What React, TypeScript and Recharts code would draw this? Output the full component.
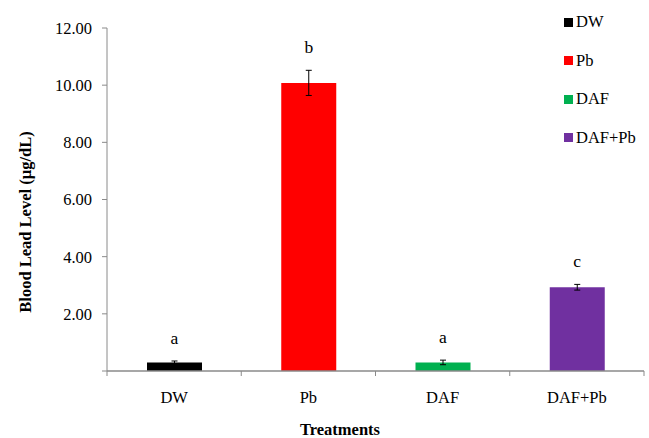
import React from 'react';
import { BarChart, Bar, XAxis, YAxis, Cell, ErrorBar, LabelList } from 'recharts';

// Blood lead level by treatment group (mean ± error)
const treatments = ['DW', 'Pb', 'DAF', 'DAF+Pb'];
const leadLevels = [0.3, 10.08, 0.3, 2.93];
const stdErrors = [0.05, 0.44, 0.08, 0.1];
const groupLetters = ['a', 'b', 'a', 'c'];
const barColors = ['#000000', '#FF0000', '#00B050', '#7030A0'];
const yTicks = [0, 2, 4, 6, 8, 10, 12];

const data = treatments.map((t, i) => ({
  name: t,
  value: leadLevels[i],
  err: stdErrors[i],
  letter: groupLetters[i],
}));

const W = 649;
const H = 438;
const Y_W = 107;
const X_H = 30;
const margin = { top: 28, right: 5, bottom: 37, left: 0 };
const PLOT_W = W - Y_W - margin.left - margin.right;
const PLOT_H = H - margin.top - margin.bottom - X_H;
const BAND = PLOT_W / treatments.length;
const PX_PER_UNIT = PLOT_H / 12;
const FONT = 'Liberation Serif, Times New Roman, Times, serif';
const AXIS = '#8a8a8a';
const FS = 16.5;
const txt = { fontFamily: FONT, fontSize: FS, fill: '#000' };

const CategoryTick = (props: any) => {
  const { x, y, payload, index } = props;
  const axisY = y - 5;
  return (
    <g>
      <line x1={x - BAND / 2} x2={x - BAND / 2} y1={axisY} y2={axisY + 5} stroke={AXIS} strokeWidth={1} />
      {index === treatments.length - 1 && (
        <line x1={x + BAND / 2} x2={x + BAND / 2} y1={axisY} y2={axisY + 5} stroke={AXIS} strokeWidth={1} />
      )}
      <text x={x} y={axisY + 32} textAnchor="middle" style={txt}>
        {payload.value}
      </text>
    </g>
  );
};

const LetterLabel = (props: any) => {
  const { x, y, width, index, value } = props;
  const top = y - stdErrors[index] * PX_PER_UNIT - 17;
  return (
    <text x={x + width / 2} y={top} textAnchor="middle" style={{ ...txt, fontSize: FS + 1 }}>
      {value}
    </text>
  );
};

const App: React.FC = () => {
  return (
    <div style={{ position: 'absolute', left: 0, top: 0, width: W, height: H, background: '#fff', fontFamily: FONT }}>
      <BarChart width={W} height={H} data={data} margin={margin}>
        <XAxis
          dataKey="name"
          height={X_H}
          stroke={AXIS}
          strokeWidth={1.5}
          tickLine={false}
          tickSize={5}
          tickMargin={0}
          interval={0}
          tick={<CategoryTick />}
          label={{
            content: () => (
              <text x={340} y={435} textAnchor="middle" style={{ ...txt, fontWeight: 'bold' }}>
                Treatments
              </text>
            ),
          }}
        />
        <YAxis
          width={Y_W}
          domain={[0, 12]}
          ticks={yTicks}
          interval={0}
          stroke={AXIS}
          tickSize={5}
          tickMargin={10}
          tickFormatter={(v: number) => (v === 0 ? '' : v.toFixed(2))}
          tick={{ style: txt, fill: '#000' }}
          label={{
            content: () => (
              <text
                x={25}
                y={222}
                transform="rotate(-90 25 222)"
                textAnchor="middle"
                dominantBaseline="central"
                style={{ ...txt, fontWeight: 'bold' }}
              >
                Blood Lead Level (µg/dL)
              </text>
            ),
          }}
        />
        <Bar dataKey="value" barSize={55} isAnimationActive={false}>
          {data.map((d, i) => (
            <Cell key={d.name} fill={barColors[i]} />
          ))}
          <ErrorBar dataKey="err" width={3} stroke="#000" strokeWidth={1} direction="y" />
          <LabelList dataKey="letter" content={<LetterLabel />} />
        </Bar>
      </BarChart>
      <div style={{ position: 'absolute', left: 564, top: 3, fontFamily: FONT, fontSize: FS, color: '#000' }}>
        {treatments.map((t, i) => (
          <div key={t} style={{ height: 38.5, display: 'flex', alignItems: 'center' }}>
            <span style={{ display: 'inline-block', width: 9, height: 9, background: barColors[i], marginRight: 3 }} />
            <span>{t}</span>
          </div>
        ))}
      </div>
    </div>
  );
};

export default App;
